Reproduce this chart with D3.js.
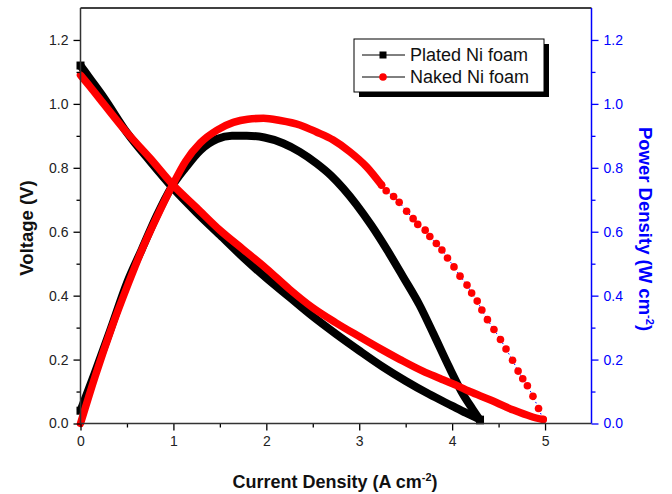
<!DOCTYPE html>
<html><head><meta charset="utf-8">
<script src="https://cdn.jsdelivr.net/npm/d3@7"></script>
<style>
body{margin:0;background:#fff;}
svg{display:block;font-family:Arial,"Liberation Sans",sans-serif;}
</style></head>
<body><svg id="c" width="672" height="494"></svg>
<script>
// ---- data ----
const platedVoltJ = [0, 0.1, 0.25, 0.5, 0.75, 1.0, 1.25, 1.5, 1.75, 2.0, 2.25, 2.5, 2.75, 3.0, 3.25, 3.5, 3.75, 4.0, 4.15, 4.3];
const platedVolt  = [1.12, 1.08, 1.02, 0.91, 0.82, 0.735, 0.66, 0.59, 0.52, 0.455, 0.395, 0.335, 0.28, 0.228, 0.178, 0.133, 0.092, 0.055, 0.033, 0.012];
const platedPowJ  = [0, 0.15, 0.33, 0.5, 0.66, 0.82, 0.98, 1.13, 1.29, 1.47, 1.63, 1.79, 1.98, 2.18, 2.36, 2.54, 2.7, 2.83, 2.97, 3.13, 3.3, 3.47, 3.65, 3.8, 3.97, 4.12, 4.22, 4.3];
const platedPow   = [0.04, 0.155, 0.30, 0.44, 0.545, 0.65, 0.74, 0.80, 0.855, 0.89, 0.90, 0.90, 0.895, 0.877, 0.85, 0.814, 0.775, 0.735, 0.685, 0.62, 0.543, 0.46, 0.37, 0.28, 0.175, 0.09, 0.045, 0.01];
const nakedVoltJ  = [0, 0.1, 0.25, 0.5, 0.75, 1.0, 1.25, 1.5, 1.75, 2.0, 2.25, 2.5, 2.75, 3.0, 3.22, 3.44, 3.69, 3.87, 4.0, 4.19, 4.4, 4.66, 4.85, 4.98];
const nakedVolt   = [1.09, 1.055, 1.0, 0.91, 0.83, 0.745, 0.675, 0.605, 0.545, 0.485, 0.42, 0.362, 0.315, 0.272, 0.235, 0.2, 0.163, 0.141, 0.125, 0.10, 0.075, 0.042, 0.022, 0.012];
const nakedPowJ   = [0, 0.156, 0.336, 0.515, 0.66, 0.82, 0.98, 1.13, 1.29, 1.47, 1.645, 1.8, 1.97, 2.15, 2.36, 2.54, 2.72, 2.9, 3.08, 3.24, 3.29, 3.37, 3.43, 3.51, 3.58, 3.63, 3.71, 3.76, 3.83, 3.89, 3.95, 4.02, 4.085, 4.16, 4.21, 4.27, 4.32, 4.38, 4.45, 4.52, 4.58, 4.65, 4.71, 4.76, 4.81, 4.87, 4.93, 4.98];
const nakedPow    = [0, 0.146, 0.30, 0.438, 0.543, 0.645, 0.74, 0.82, 0.878, 0.918, 0.942, 0.952, 0.955, 0.948, 0.934, 0.912, 0.887, 0.85, 0.803, 0.746, 0.728, 0.71, 0.692, 0.664, 0.641, 0.623, 0.605, 0.585, 0.563, 0.543, 0.518, 0.49, 0.461, 0.433, 0.408, 0.383, 0.355, 0.325, 0.294, 0.263, 0.233, 0.198, 0.164, 0.14, 0.118, 0.085, 0.047, 0.013];
const xMajor = [0, 1, 2, 3, 4, 5];
const xMinor = [0.5, 1.5, 2.5, 3.5, 4.5];
const yMajor = [0, 0.2, 0.4, 0.6, 0.8, 1.0, 1.2];
const yMinor = [0.1, 0.3, 0.5, 0.7, 0.9, 1.1];
const legendLabels = ["Plated Ni foam", "Naked Ni foam"];

// ---- layout ----
const L = 80.5, R = 591.5, T = 8, B = 423.5;
const svg = d3.select("#c");
const x = d3.scaleLinear().domain([0, 5.5]).range([L, R]);
const y = d3.scaleLinear().domain([0, 1.3]).range([B, T]);
const blue = "#0000ff";
const zip = (a, b) => a.map((v, i) => [v, b[i]]);

// ---- series ----
const line = d3.line().x(d => x(d[0])).y(d => y(d[1])).curve(d3.curveMonotoneX);
const g = svg.append("g");
function band(data, color, w, cap) {
  g.append("path").attr("d", line(data)).attr("fill", "none").attr("stroke", color)
    .attr("stroke-width", w).attr("stroke-linejoin", "round").attr("stroke-linecap", cap);
}
function squares(data) {
  g.selectAll(null).data(data).enter().append("rect")
    .attr("x", d => x(d[0]) - 4).attr("y", d => y(d[1]) - 4)
    .attr("width", 8).attr("height", 8).attr("fill", "#000");
}
function dots(data) {
  g.selectAll(null).data(data).enter().append("circle")
    .attr("cx", d => x(d[0])).attr("cy", d => y(d[1])).attr("r", 3.8).attr("fill", "#ff0000");
}
const pv = zip(platedVoltJ, platedVolt), pp = zip(platedPowJ, platedPow);
const nv = zip(nakedVoltJ, nakedVolt), np = zip(nakedPowJ, nakedPow);
band(pv, "#000", 8, "butt"); squares([pv[0], pv[pv.length - 1]]);
band(pp, "#000", 8, "butt"); squares([pp[0], pp[pp.length - 1]]);
band(nv, "#ff0000", 7.5, "round");
// naked power: solid band where points are dense, separate dots in the tail
const tailFrom = 3.2;
band(np.filter(d => d[0] <= tailFrom + 0.05), "#ff0000", 7.5, "round");
g.append("path").attr("d", line(np.filter(d => d[0] >= tailFrom))).attr("fill", "none").attr("stroke", blue)
  .attr("stroke-width", 1).attr("stroke-dasharray", "1.5,2.5");
dots(np.filter(d => d[0] >= tailFrom));

// ---- axes ----
const fs = "14px";
function styleAxis(sel, color) {
  sel.select(".domain").remove();
  sel.selectAll("line").attr("stroke", color).attr("stroke-width", 1.3);
  sel.selectAll("text").attr("fill", color === "#000" ? "#222" : color).style("font-size", fs)
    .style("font-family", "Arial,'Liberation Sans',sans-serif");
}
const ax1 = svg.append("g").attr("transform", `translate(0,${B})`)
  .call(d3.axisBottom(x).tickValues(xMajor).tickFormat(d3.format("d")).tickSize(7).tickPadding(6));
styleAxis(ax1, "#000");
const ax1m = svg.append("g").attr("transform", `translate(0,${B})`)
  .call(d3.axisBottom(x).tickValues(xMinor).tickFormat("").tickSize(4));
styleAxis(ax1m, "#000");
const ay1 = svg.append("g").attr("transform", `translate(${L},0)`)
  .call(d3.axisLeft(y).tickValues(yMajor).tickFormat(d3.format(".1f")).tickSize(7).tickPadding(5));
styleAxis(ay1, "#000");
const ay1m = svg.append("g").attr("transform", `translate(${L},0)`)
  .call(d3.axisLeft(y).tickValues(yMinor).tickFormat("").tickSize(4));
styleAxis(ay1m, "#000");
const ay2 = svg.append("g").attr("transform", `translate(${R},0)`)
  .call(d3.axisRight(y).tickValues(yMajor).tickFormat(d3.format(".1f")).tickSize(7).tickPadding(5));
styleAxis(ay2, blue);
const ay2m = svg.append("g").attr("transform", `translate(${R},0)`)
  .call(d3.axisRight(y).tickValues(yMinor).tickFormat("").tickSize(4));
styleAxis(ay2m, blue);

// frame lines
svg.append("line").attr("x1", L).attr("x2", R).attr("y1", T).attr("y2", T).attr("stroke", "#000").attr("stroke-width", 1.5);
svg.append("line").attr("x1", L).attr("x2", R).attr("y1", B).attr("y2", B).attr("stroke", "#333").attr("stroke-width", 1.5);
svg.append("line").attr("x1", L).attr("x2", L).attr("y1", T).attr("y2", B).attr("stroke", "#333").attr("stroke-width", 1.5);
svg.append("line").attr("x1", R).attr("x2", R).attr("y1", T).attr("y2", B).attr("stroke", blue).attr("stroke-width", 1.5);

// ---- titles ----
const xt = svg.append("text").attr("x", 335).attr("y", 488).attr("text-anchor", "middle")
  .style("font-size", "18px").style("font-weight", "bold").attr("fill", "#111");
xt.append("tspan").text("Current Density (A cm");
xt.append("tspan").attr("dy", -7).style("font-size", "11px").text("-2");
xt.append("tspan").attr("dy", 7).text(")");

svg.append("text").attr("transform", "translate(33,228) rotate(-90)").attr("text-anchor", "middle")
  .style("font-size", "18.5px").style("font-weight", "bold").attr("fill", "#111").text("Voltage (V)");

const yt2 = svg.append("text").attr("transform", "translate(639,229) rotate(90)").attr("text-anchor", "middle")
  .style("font-size", "18.5px").style("font-weight", "bold").attr("fill", blue);
yt2.append("tspan").text("Power Density (W cm");
yt2.append("tspan").attr("dy", -7).style("font-size", "11px").text("-2");
yt2.append("tspan").attr("dy", 7).text(")");

// ---- legend ----
const lg = svg.append("g");
lg.append("rect").attr("x", 359).attr("y", 44).attr("width", 190).attr("height", 53).attr("fill", "#000");
lg.append("rect").attr("x", 354).attr("y", 39).attr("width", 190).attr("height", 53).attr("fill", "#fff").attr("stroke", "#000").attr("stroke-width", 1);
legendLabels.forEach((lab, i) => {
  const yy = 55 + i * 22;
  lg.append("line").attr("x1", 362).attr("x2", 405).attr("y1", yy).attr("y2", yy).attr("stroke", "#000").attr("stroke-width", 1);
  if (i === 0) lg.append("rect").attr("x", 379.5).attr("y", yy - 3.5).attr("width", 7).attr("height", 7).attr("fill", "#000");
  else lg.append("circle").attr("cx", 383).attr("cy", yy).attr("r", 3.8).attr("fill", "#ff0000");
  lg.append("text").attr("x", 410).attr("y", yy + 6).style("font-size", "18px").attr("fill", "#111").text(lab);
});
</script></body></html>
